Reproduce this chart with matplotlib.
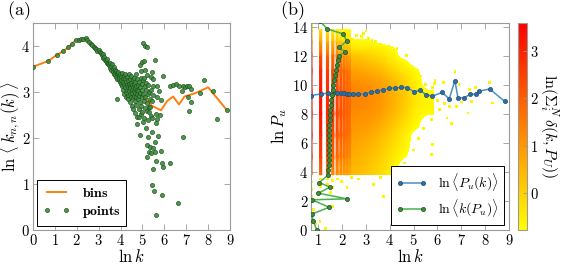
import numpy as np
import matplotlib
matplotlib.use("Agg")
import matplotlib.pyplot as plt
from matplotlib.colors import Normalize
from matplotlib.ticker import FuncFormatter

plt.rcParams['mathtext.fontset'] = 'cm'
plt.rcParams['font.family'] = ['DejaVu Serif']

# ---- panel (a): average nearest neighbour degree ----
bins_x = [0.00, 0.69, 1.10, 1.39, 1.61, 1.79, 1.95, 2.08, 2.20, 2.30, 2.48, 2.71, 2.94,
          3.18, 3.42, 3.66, 3.90, 4.14, 4.40, 4.68, 5.02, 5.42, 5.85, 6.12, 6.40,
          6.67, 6.92, 7.45, 8.00, 8.85]
bins_y = [3.55, 3.67, 3.81, 3.89, 3.97, 4.05, 4.13, 4.14, 4.15, 4.16, 4.10, 4.01, 3.92,
          3.80, 3.66, 3.52, 3.36, 3.22, 3.10, 2.98, 2.95, 2.70, 2.60, 2.80, 2.90,
          2.73, 2.90, 2.98, 3.10, 2.61]

points = [
    (0.00, 3.55), (0.69, 3.67), (1.10, 3.81), (1.39, 3.89), (1.61, 3.97), (1.79, 4.05),
    (1.95, 4.13), (2.08, 4.14), (2.20, 4.15), (2.30, 4.16),
    (2.40, 4.17), (2.48, 4.12), (2.56, 4.08), (2.64, 4.04), (2.71, 4.01), (2.77, 3.98),
    (2.83, 3.96), (2.89, 3.93), (2.94, 3.90), (3.00, 3.92), (3.04, 3.86), (3.09, 3.84),
    (3.14, 3.80), (3.18, 3.83), (3.22, 3.74), (3.26, 3.76), (3.30, 3.70), (3.33, 3.68),
    (3.37, 3.72), (3.40, 3.63),
    (3.43, 3.60), (3.47, 3.58), (3.50, 3.64), (3.53, 3.52), (3.56, 3.56), (3.58, 3.47),
    (3.61, 3.60), (3.64, 3.50), (3.66, 3.44), (3.69, 3.55), (3.71, 3.40), (3.74, 3.48),
    (3.76, 3.36), (3.78, 3.45), (3.81, 3.32), (3.83, 3.42), (3.85, 3.28), (3.87, 3.38),
    (3.89, 3.44), (3.91, 3.25), (3.93, 3.35), (3.95, 3.30), (3.97, 3.22), (3.99, 3.40),
    (4.01, 3.18), (4.03, 3.32), (4.04, 3.26), (4.06, 3.42), (4.08, 3.12), (4.09, 3.30),
    (3.83, 2.85),
    (4.11, 3.22), (4.13, 3.05), (4.14, 3.35), (4.16, 3.15), (4.17, 2.95), (4.19, 3.28),
    (4.20, 3.10), (4.22, 3.38), (4.23, 3.00), (4.25, 3.22), (4.26, 2.88), (4.28, 3.15),
    (4.29, 3.32), (4.30, 3.05), (4.32, 2.92), (4.33, 3.25), (4.34, 3.10), (4.36, 2.84),
    (4.37, 3.18), (4.38, 3.40), (4.39, 3.02), (4.41, 3.12), (4.42, 2.78), (4.43, 3.28),
    (4.44, 2.96), (4.45, 3.08), (4.47, 3.20), (4.48, 2.90), (4.49, 3.35), (4.50, 3.05),
    (4.52, 2.70), (4.53, 3.15), (4.54, 2.98), (4.55, 3.25), (4.56, 2.86), (4.57, 3.10),
    (4.58, 2.62), (4.60, 3.02), (4.61, 3.30), (4.62, 2.92), (4.63, 3.18), (4.64, 2.55),
    (4.65, 3.08), (4.66, 2.80), (4.67, 3.22), (4.68, 2.98), (4.69, 3.40), (4.70, 2.72),
    (4.71, 3.12), (4.72, 2.88), (4.73, 3.05), (4.74, 2.46), (4.75, 3.28), (4.76, 2.95),
    (4.77, 2.30), (4.78, 3.15), (4.79, 2.84),
    (4.80, 3.02), (4.82, 3.22), (4.83, 2.62), (4.84, 2.92), (4.86, 2.45), (4.87, 3.10),
    (4.88, 2.78), (4.89, 2.07), (4.89, 3.59), (4.90, 2.98), (4.92, 3.30), (4.93, 2.70),
    (4.93, 3.45), (4.95, 2.52), (4.96, 3.17), (4.96, 3.66), (4.97, 2.88), (4.99, 2.57),
    (5.00, 3.05), (5.01, 4.06), (5.02, 2.35), (5.04, 2.95), (5.04, 3.25), (5.06, 2.80),
    (5.07, 3.68), (5.07, 3.30), (5.08, 2.43), (5.10, 3.12), (5.11, 2.65), (5.12, 3.48),
    (5.13, 4.00), (5.13, 2.90), (5.15, 3.20), (5.16, 2.21), (5.17, 3.05), (5.19, 2.59),
    (5.19, 1.85), (5.19, 3.37), (5.20, 2.75), (5.22, 3.97), (5.22, 1.59), (5.24, 2.95),
    (5.26, 3.15), (5.27, 2.39), (5.27, 2.03), (5.28, 2.68), (5.31, 2.57), (5.31, 1.70),
    (5.32, 3.00), (5.34, 1.80), (5.34, 2.68), (5.36, 2.85), (5.38, 2.48), (5.38, 1.67),
    (5.38, 3.33), (5.40, 3.05), (5.42, 2.43), (5.42, 2.13), (5.42, 3.44), (5.42, 0.98),
    (5.44, 2.80), (5.46, 3.12), (5.47, 1.78), (5.47, 1.32), (5.50, 3.28), (5.50, 2.93),
    (5.54, 0.85), (5.57, 1.70), (5.57, 3.70), (5.59, 1.91), (5.61, 0.32), (5.62, 2.33),
    (5.62, 1.49), (5.62, 2.52), (5.65, 2.41), (5.65, 3.13), (5.65, 2.90), (5.73, 2.05),
    (5.77, 3.03), (5.80, 2.50), (5.83, 2.83), (5.83, 1.72), (5.89, 0.75), (5.88, 1.45),
    (5.95, 1.36), (5.95, 3.35), (6.26, 1.46), (6.26, 3.12), (6.38, 3.15), (6.53, 3.17),
    (6.61, 0.58), (6.68, 3.13), (6.79, 3.01), (6.84, 3.13), (6.84, 2.01), (6.94, 3.10),
    (7.02, 3.12), (7.10, 2.88), (7.14, 3.13), (7.14, 2.59), (7.20, 3.06), (7.20, 2.79),
    (7.63, 2.97), (7.81, 3.25), (8.21, 3.03), (8.39, 2.41), (8.85, 2.61),
]

# ---- panel (b): degree vs ln P_u ----
pu_k_x = [0.69, 1.10, 1.39, 1.61, 1.79, 1.95, 2.08, 2.20, 2.30, 2.45, 2.68, 2.95, 3.22,
          3.48, 3.72, 3.98, 4.22, 4.48, 4.73, 5.00, 5.28, 5.52, 5.79, 6.21, 6.49, 6.73,
          6.86, 7.12, 7.38, 7.61, 7.74, 8.19, 8.82]
pu_k_y = [9.25, 9.36, 9.42, 9.45, 9.44, 9.42, 9.40, 9.37, 9.35, 9.33, 9.33, 9.38, 9.47,
          9.56, 9.63, 9.76, 9.77, 9.82, 9.80, 9.52, 9.60, 9.30, 9.22, 9.47, 9.01, 10.28,
          9.08, 9.10, 9.35, 9.33, 9.56, 9.70, 8.85]

k_pu_x = [0.93, 0.79, 0.72, 1.46, 0.72, 2.19, 1.00, 1.49, 1.04, 1.42, 1.42, 1.43, 1.43,
          1.44, 1.44, 1.45, 1.45, 1.46, 1.47, 1.47, 1.48, 1.49, 1.50, 1.52, 1.54, 1.57,
          1.60, 1.63, 1.67, 1.70, 1.74, 1.77, 1.81, 1.86, 2.12, 1.88, 2.19, 2.05, 1.38,
          1.07]
k_pu_y = [0.02, 0.62, 1.08, 1.56, 2.07, 2.14, 2.53, 2.94, 3.26, 3.79, 4.14, 4.48, 4.83,
          5.17, 5.52, 5.86, 6.21, 6.55, 6.90, 7.24, 7.59, 7.93, 8.28, 8.62, 8.97, 9.31,
          9.66, 10.00, 10.35, 10.69, 11.04, 11.38, 11.73, 12.00, 12.23, 12.57, 13.01,
          13.49, 13.84, 14.37]

# density of (k, P_u) pairs, ln of count; columns = ln k cells, rows = ln P_u cells
nan = np.nan
cloud_x_edges = (2.34, 5.84)
cloud_y_edges = (3.8, 14.3)
cloud_v = [
    [0.4, 0.2, -0.1, -0.5, nan, nan, nan],
    [0.5, 0.3, 0.0, -0.4, nan, nan, nan],
    [0.6, 0.4, 0.1, -0.3, -0.7, nan, nan],
    [0.7, 0.5, 0.2, -0.2, -0.6, nan, nan],
    [0.8, 0.6, 0.3, -0.1, -0.5, nan, nan],
    [0.9, 0.75, 0.45, 0.05, -0.4, nan, nan],
    [1.0, 0.9, 0.6, 0.2, -0.3, -0.7, nan],
    [1.1, 1.0, 0.75, 0.35, -0.1, -0.6, nan],
    [1.2, 1.1, 0.9, 0.5, 0.05, -0.5, -0.7],
    [1.3, 1.2, 1.0, 0.6, 0.15, -0.4, -0.6],
    [1.35, 1.25, 1.05, 0.65, 0.2, -0.35, -0.6],
    [1.3, 1.2, 1.0, 0.6, 0.15, -0.4, -0.7],
    [1.2, 1.1, 0.9, 0.5, 0.05, -0.5, nan],
    [1.0, 0.9, 0.7, 0.3, -0.1, -0.6, nan],
    [0.8, 0.6, 0.4, 0.0, -0.4, -0.7, nan],
    [0.5, 0.35, 0.1, -0.3, -0.6, nan, nan],
    [0.2, 0.0, -0.2, -0.5, nan, nan, nan],
    [-0.4, -0.4, -0.5, -0.7, nan, nan, nan],
    [-0.7, -0.7, nan, nan, nan, nan, nan],
    [nan, nan, nan, nan, nan, nan, nan],
    [nan, nan, nan, nan, nan, nan, nan],
]

# low degrees k = 2..10 give separate columns
stripe_k = [2, 3, 4, 5, 6, 7, 8, 9, 10]
stripe_y = [3.8, 5.0, 6.5, 8.0, 9.5, 11.0, 12.0, 13.0, 13.8]
stripe_v = [
    [2.2, 2.8, 3.2, 3.5, 3.5, 3.2, 2.5, 1.2, 0.3],
    [1.8, 2.5, 2.9, 3.2, 3.2, 2.9, 2.2, 0.8, -0.2],
    [1.5, 2.2, 2.6, 2.9, 2.9, 2.6, 1.9, 0.6, -0.4],
    [1.2, 1.9, 2.3, 2.6, 2.6, 2.3, 1.7, 0.4, -0.5],
    [1.0, 1.7, 2.1, 2.4, 2.4, 2.1, 1.5, 0.2, -0.6],
    [0.9, 1.5, 1.9, 2.2, 2.2, 1.9, 1.3, 0.0, -0.7],
    [0.8, 1.4, 1.8, 2.0, 2.0, 1.8, 1.1, -0.1, -0.7],
    [0.7, 1.3, 1.7, 1.9, 1.9, 1.6, 0.9, -0.2, -0.7],
    [0.6, 1.2, 1.6, 1.8, 1.8, 1.5, 0.8, -0.3, -0.7],
]

# isolated (k, P_u) pairs outside the dense region
sparse_x = [0.72, 0.72, 0.72, 1.10, 1.10, 1.10, 1.39, 1.39, 1.61, 1.61, 1.79, 1.98, 2.20,
            1.50, 2.40, 2.70, 0.90, 1.30, 0.80, 1.60, 1.07, 3.30, 3.72, 3.60, 4.30, 4.60,
            5.00, 5.20, 5.40, 5.75, 5.80, 3.00, 2.80, 3.40, 3.60, 4.30, 4.70, 2.50, 4.42,
            5.30, 5.50, 5.60, 5.80, 5.90, 6.00, 6.10, 6.30, 6.24, 6.40, 6.52, 6.60, 6.73,
            6.80, 6.90, 7.00, 7.28, 7.35, 7.42, 7.60, 8.19, 8.30, 5.75, 5.89, 2.60, 3.10,
            2.90, 0.72, 0.72, 2.45, 2.75, 3.25]
sparse_y = [3.30, 2.80, 2.30, 3.50, 3.00, 2.60, 3.50, 3.10, 3.40, 2.90, 3.50, 3.33, 2.90,
            2.60, 3.60, 3.50, 0.40, 0.10, 1.40, 1.60, 0.57, 3.10, 2.30, 3.60, 4.30, 4.60,
            5.50, 6.30, 7.00, 5.20, 5.90, 13.70, 13.30, 13.00, 12.80, 12.50, 12.00, 13.00,
            11.70, 10.60, 10.00, 8.20, 9.80, 10.30, 8.90, 8.30, 8.70, 10.16, 7.70, 8.50,
            7.30, 10.90, 8.50, 10.00, 8.80, 8.05, 9.66, 8.85, 9.80, 10.16, 8.74, 7.59, 10.10,
            13.40, 13.20, 13.55, 14.10, 13.90, 13.10, 12.95, 13.05]
sparse_v = [-0.6] * len(sparse_x)

vmin, vmax = -0.77, 3.58
cmap = plt.get_cmap('autumn_r')
cloud_cmap = cmap.copy()
cloud_cmap.set_under((1, 1, 1, 0))
norm = Normalize(vmin=vmin, vmax=vmax)

math_fmt = FuncFormatter(lambda v, p: '$%g$' % v)
grey = '#9a9a9a'


def style_axes(ax):
    for s in ax.spines.values():
        s.set_color(grey)
        s.set_linewidth(0.8)
    ax.tick_params(direction='in', top=True, right=True, length=4, width=0.6,
                   color=grey, labelsize=10.5, pad=2)
    ax.xaxis.set_major_formatter(math_fmt)
    ax.yaxis.set_major_formatter(math_fmt)


fig = plt.figure(figsize=(5.65, 2.67), dpi=100)
ax1 = fig.add_axes([0.0584, 0.139, 0.3487, 0.775])
ax2 = fig.add_axes([0.5504, 0.139, 0.3505, 0.775])
cax = fig.add_axes([0.9168, 0.139, 0.016, 0.775])

# panel (a)
pts = np.array(points)
ax1.plot(bins_x, bins_y, color='#ff7f0e', lw=1.4, label=r'$\mathbf{bins}$', zorder=2)
ax1.plot(pts[:, 0], pts[:, 1], 'o', ms=3.0, mfc='#3c8d3c', mec='#1d4d1d', mew=0.5,
         alpha=0.9, label=r'$\mathbf{points}$', zorder=3)
ax1.set_xlim(0, 9)
ax1.set_ylim(0, 4.5)
ax1.set_xticks(range(10))
ax1.set_yticks(range(5))
style_axes(ax1)
ax1.set_xlabel(r'$\ln k$', fontsize=12, labelpad=1)
ax1.set_ylabel(r'$\ln\,\langle\, k_{n,n}(k)\,\rangle$', fontsize=12)
ax1.yaxis.set_label_coords(-0.055, 0.5)
leg1 = ax1.legend(loc='lower left', numpoints=2, fontsize=10, fancybox=False,
                  edgecolor='black', framealpha=1, borderaxespad=0.3,
                  handlelength=2.0, borderpad=0.4, labelspacing=0.3)
leg1.get_frame().set_linewidth(0.7)

# panel (b)
cv = np.nan_to_num(np.array(cloud_v), nan=-1.0)
ax2.imshow(cv, origin='lower', aspect='auto', cmap=cloud_cmap, norm=norm,
           extent=[cloud_x_edges[0], cloud_x_edges[1], cloud_y_edges[0], cloud_y_edges[1]],
           interpolation='bilinear', interpolation_stage='data', zorder=1)
w = 0.045
for k, vals in zip(stripe_k, stripe_v):
    xk = np.log(k)
    X = np.array([[xk - w, xk + w]] * len(stripe_y))
    Y = np.column_stack([stripe_y, stripe_y])
    C = np.column_stack([vals, vals])
    ax2.pcolormesh(X, Y, C, shading='gouraud', cmap=cmap, norm=norm, zorder=1)
ax2.scatter(sparse_x, sparse_y, c=sparse_v, cmap=cmap, norm=norm, marker='s', s=4,
            linewidths=0, zorder=1)

ax2.plot(pu_k_x, pu_k_y, '-o', color='#4a90c8', lw=1.1, ms=3.0, mfc='#2f6f9f',
         mec='#1f4f75', mew=0.5, label=r'$\ln\langle P_u(k)\rangle$', zorder=3)
ax2.plot(k_pu_x, k_pu_y, '-o', color='#4caf50', lw=1.1, ms=3.0, mfc='#3c8d3c',
         mec='#1d4d1d', mew=0.5, label=r'$\ln\langle k(P_u)\rangle$', zorder=3)
ax2.set_xlim(np.log(2), 9)
ax2.set_ylim(0, 14.25)
ax2.set_xticks(range(1, 10))
ax2.set_yticks(range(0, 15, 2))
style_axes(ax2)
ax2.set_xlabel(r'$\ln k$', fontsize=12, labelpad=1)
ax2.set_ylabel(r'$\ln P_u$', fontsize=12, labelpad=2)
leg2 = ax2.legend(loc='lower right', numpoints=2, fontsize=10, fancybox=False,
                  edgecolor='black', framealpha=1, borderaxespad=0.35,
                  handlelength=2.2, borderpad=0.4, labelspacing=0.35)
leg2.get_frame().set_linewidth(0.7)
leg2.set_zorder(5)

sm = plt.cm.ScalarMappable(norm=norm, cmap=cmap)
cb = fig.colorbar(sm, cax=cax)
cb.set_ticks([0, 1, 2, 3])
cb.ax.yaxis.set_major_formatter(math_fmt)
cb.ax.tick_params(direction='in', length=3, width=0.6, color=grey, labelsize=10.5, pad=2)
cb.outline.set_edgecolor(grey)
cb.outline.set_linewidth(0.8)
cb.set_label(r'$\ln(\Sigma_i^N\,\delta(k,P_U))$', rotation=270, fontsize=11.5, labelpad=16)

fig.text(0.012, 0.96, r'$\mathrm{(a)}$', fontsize=13, va='center')
fig.text(0.496, 0.962, r'$\mathrm{(b)}$', fontsize=13, va='center')

fig.savefig('out.png', dpi=100)
